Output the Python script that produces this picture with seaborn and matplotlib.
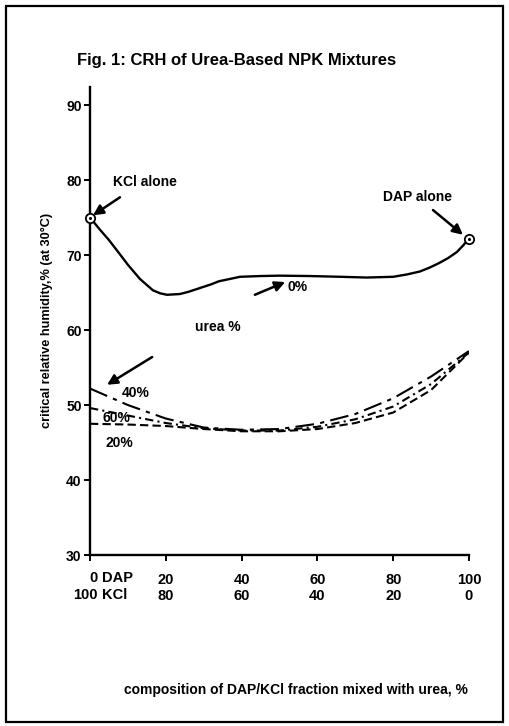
import numpy as np
import pandas as pd
import matplotlib
matplotlib.use("Agg")
import matplotlib.pyplot as plt
import matplotlib.patches as patches
import seaborn as sns

# ---- data ----
x0 = [0, 2.6, 5, 7.9, 10, 13.2, 16.6, 18.5, 20.3, 23.7, 26, 29, 32, 34, 39.6, 45, 50,
      58, 66, 73, 80, 83.5, 87, 89.5, 92, 94.5, 96.8, 98.5, 100]
urea0 = [75, 73.4, 72.0, 70.1, 68.7, 66.8, 65.3, 64.9, 64.7, 64.8, 65.1, 65.6, 66.1, 66.5,
         67.1, 67.2, 67.25, 67.2, 67.1, 67.0, 67.1, 67.4, 67.8, 68.3, 68.9, 69.6, 70.4, 71.3, 72.2]

x_low = [0, 10, 20, 30, 40, 50, 60, 70, 80, 90, 100]
urea40 = [52.2, 50.0, 48.2, 47.0, 46.7, 46.8, 47.5, 48.8, 50.9, 53.8, 57.2]
urea60 = [49.6, 48.6, 47.6, 46.9, 46.6, 46.6, 47.1, 48.1, 49.8, 52.8, 57.0]
urea20 = [47.5, 47.4, 47.2, 46.8, 46.5, 46.5, 46.8, 47.6, 49.0, 52.0, 57.0]

dap_ticks = [0, 20, 40, 60, 80, 100]
kcl_ticks = [100, 80, 60, 40, 20, 0]
y_ticks = [30, 40, 50, 60, 70, 80, 90]

sns.set_style("ticks")
plt.rcParams['font.family'] = ['Liberation Sans', 'DejaVu Sans']
plt.rcParams['font.weight'] = 'bold'
plt.rcParams['text.color'] = 'black'

fig = plt.figure(figsize=(5.09, 7.26), dpi=100)
ax = fig.add_axes([0.1768, 0.2355, 0.7446, 0.6446])

df0 = pd.DataFrame({"x": x0, "y": urea0})
sns.lineplot(data=df0, x="x", y="y", ax=ax, color="black", lw=1.7, sort=False)

for ys, ls in [(urea40, (0, (9, 3, 2, 3))), (urea60, (0, (4, 2, 1, 2))), (urea20, (0, (4, 2)))]:
    d = pd.DataFrame({"x": x_low, "y": ys})
    sns.lineplot(data=d, x="x", y="y", ax=ax, color="black", lw=1.5, linestyle=ls)

# end-point markers (KCl alone, DAP alone)
ends = pd.DataFrame({"x": [x0[0], x0[-1]], "y": [urea0[0], urea0[-1]]})
sns.scatterplot(data=ends, x="x", y="y", ax=ax, s=45, facecolor="white",
                edgecolor="black", linewidth=1.3, zorder=5, clip_on=False)
sns.scatterplot(data=ends, x="x", y="y", ax=ax, s=5, color="black", linewidth=0,
                zorder=6, clip_on=False)

ax.set_xlim(0, 100)
ax.set_ylim(30, 92.4)
ax.set_yticks(y_ticks)
ax.set_yticklabels([str(v) for v in y_ticks], fontsize=10, fontweight='bold')
ax.set_xticks(dap_ticks)
ax.set_xticklabels([])
ax.set_xlabel("")
ax.set_ylabel("")
ax.tick_params(axis='both', direction='out', length=4, width=1.4, colors='black')
ax.tick_params(axis='y', pad=2)
sns.despine(ax=ax)
for s in ['left', 'bottom']:
    ax.spines[s].set_linewidth(1.7)
    ax.spines[s].set_color('black')

# two-row x tick labels
tr = ax.get_xaxis_transform()
fs = 10.5
for d, k in zip(dap_ticks, kcl_ticks):
    if d == 0:
        ax.text(d + 1.9, -0.049, "0", transform=tr, ha='right', va='center', fontsize=fs, fontweight='bold')
        ax.text(d + 3.2, -0.049, "DAP", transform=tr, ha='left', va='center', fontsize=fs, fontweight='bold')
        ax.text(d + 1.9, -0.085, str(k), transform=tr, ha='right', va='center', fontsize=fs, fontweight='bold')
        ax.text(d + 3.2, -0.085, "KCl", transform=tr, ha='left', va='center', fontsize=fs, fontweight='bold')
    else:
        ax.text(d, -0.053, str(d), transform=tr, ha='center', va='center', fontsize=fs, fontweight='bold')
        ax.text(d, -0.087, str(k), transform=tr, ha='center', va='center', fontsize=fs, fontweight='bold')

arrow = dict(arrowstyle='-|>', color='black', lw=1.8, mutation_scale=15, shrinkA=0, shrinkB=0)
afs = 10
ax.annotate("", xy=(0.8, 75.3), xytext=(7.9, 77.7), arrowprops=arrow)
ax.text(6.1, 79.7, "KCl alone", fontsize=afs, fontweight='bold', va='center')
ax.annotate("", xy=(98.4, 72.7), xytext=(90.5, 76.0), arrowprops=arrow)
ax.text(77.3, 77.7, "DAP alone", fontsize=afs, fontweight='bold', va='center')
ax.annotate("", xy=(51.5, 66.4), xytext=(43.5, 64.7), arrowprops=arrow)
ax.text(52.2, 65.7, "0%", fontsize=afs, fontweight='bold', va='center')
ax.text(27.7, 60.4, "urea %", fontsize=afs, fontweight='bold', va='center')
ax.annotate("", xy=(4.5, 52.7), xytext=(16.4, 56.4), arrowprops=arrow)
ax.text(8.4, 51.6, "40%", fontsize=afs, fontweight='bold', va='center')
ax.text(3.4, 48.3, "60%", fontsize=afs, fontweight='bold', va='center')
ax.text(4.0, 44.9, "20%", fontsize=afs, fontweight='bold', va='center')

fig.text(77 / 509, 1 - 60 / 726, "Fig. 1: CRH of Urea-Based NPK Mixtures",
         fontsize=12, fontweight='bold', ha='left', va='center')
fig.text(47 / 509, 1 - 320 / 726, "critical relative humidity,% (at 30°C)",
         rotation=90, fontsize=9.2, fontweight='bold', ha='center', va='center')
fig.text(296 / 509, 1 - 690 / 726, "composition of DAP/KCl fraction mixed with urea, %",
         fontsize=10, fontweight='bold', ha='center', va='center')

fig.patches.append(patches.Rectangle((6 / 509, 4 / 726), 497 / 509, 716 / 726,
                                     transform=fig.transFigure, fill=False,
                                     edgecolor='black', linewidth=1.6))

fig.savefig("out.png", dpi=100, facecolor='white')
